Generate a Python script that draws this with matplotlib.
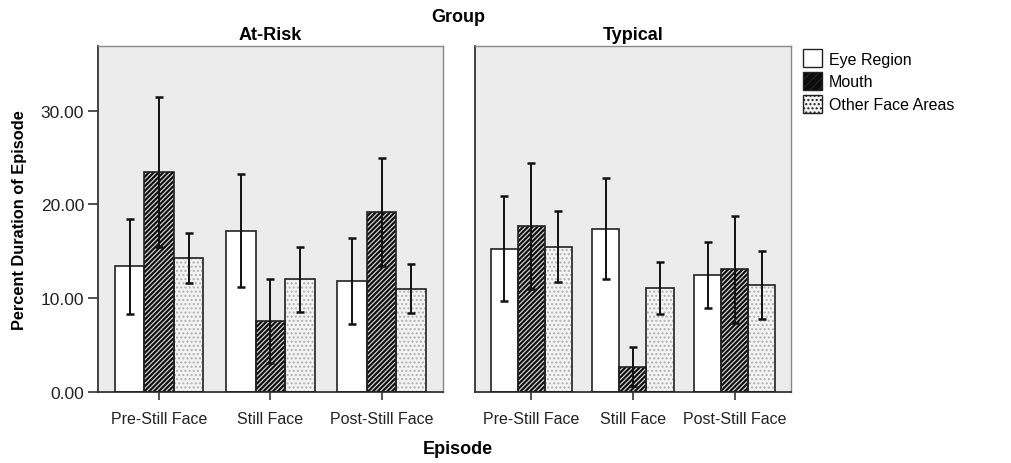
import matplotlib.pyplot as plt
import numpy as np

# Values (mean and half-width of the error bar)
episodes = ["Pre-Still Face", "Still Face", "Post-Still Face"]
groups = ["At-Risk", "Typical"]
regions = ["Eye Region", "Mouth", "Other Face Areas"]

at_risk_eye = [13.4, 17.2, 11.8]
at_risk_mouth = [23.5, 7.6, 19.2]
at_risk_other = [14.3, 12.0, 11.0]
at_risk_eye_err = [5.1, 6.0, 4.6]
at_risk_mouth_err = [8.0, 4.5, 5.8]
at_risk_other_err = [2.7, 3.5, 2.6]

typical_eye = [15.3, 17.4, 12.5]
typical_mouth = [17.7, 2.7, 13.1]
typical_other = [15.5, 11.1, 11.4]
typical_eye_err = [5.6, 5.4, 3.5]
typical_mouth_err = [6.7, 2.1, 5.7]
typical_other_err = [3.8, 2.8, 3.6]

means = {
    "At-Risk": [at_risk_eye, at_risk_mouth, at_risk_other],
    "Typical": [typical_eye, typical_mouth, typical_other],
}
errs = {
    "At-Risk": [at_risk_eye_err, at_risk_mouth_err, at_risk_other_err],
    "Typical": [typical_eye_err, typical_mouth_err, typical_other_err],
}

plt.rcParams["font.family"] = ["Liberation Sans", "DejaVu Sans"]

bg = "#ececec"
styles = [
    dict(facecolor="white", hatch=None, hcolor="white", hlw=1.0),
    dict(facecolor="#0c0c0c", hatch="///////", hcolor="#d0d0d0", hlw=0.9),
    dict(facecolor="#f4f4f4", hatch="....", hcolor="#b0b0b0", hlw=1.0),
]

fig = plt.figure(figsize=(10.11, 4.64), dpi=100)
ax_l = fig.add_axes([0.0969, 0.153, 0.3412, 0.7457])
ax_r = fig.add_axes([0.4698, 0.153, 0.3126, 0.7457])

x = np.arange(len(episodes))
w = 0.265
for ax, grp in zip([ax_l, ax_r], groups):
    ax.set_facecolor(bg)
    for k, st in enumerate(styles):
        pos = x + (k - 1) * w
        vals = means[grp][k]
        plt.rcParams["hatch.linewidth"] = st["hlw"]
        if st["hatch"]:
            ax.bar(pos, vals, w, color=st["facecolor"], edgecolor=st["hcolor"],
                   hatch=st["hatch"], linewidth=0, zorder=2)
        else:
            ax.bar(pos, vals, w, color=st["facecolor"], linewidth=0, zorder=2)
        ax.bar(pos, vals, w, fill=False, edgecolor="#222222", linewidth=1.2, zorder=3)
        ax.errorbar(pos, vals, yerr=errs[grp][k], fmt="none", ecolor="#111111",
                    elinewidth=1.4, capsize=3, capthick=1.8, zorder=4)
    ax.set_xlim(-0.55, 2.55)
    ax.set_ylim(0, 36.9)
    ax.set_xticks(x)
    ax.set_xticklabels(episodes, fontsize=11.5, color="#222222")
    ax.tick_params(axis="x", length=6, width=1.2, color="#333333", pad=8)
    ax.set_title(grp, fontsize=13, fontweight="bold", pad=5)
    for side in ["top", "right"]:
        ax.spines[side].set_color("#888888")
        ax.spines[side].set_linewidth(1.0)
    for side in ["left", "bottom"]:
        ax.spines[side].set_color("#333333")
        ax.spines[side].set_linewidth(1.3)

ax_l.set_yticks([0, 10, 20, 30])
ax_l.set_yticklabels(["0.00", "10.00", "20.00", "30.00"], fontsize=12.5, color="#222222")
ax_l.tick_params(axis="y", length=7, width=1.2, color="#333333", pad=3)
ax_l.set_ylabel("Percent Duration of Episode", fontsize=11.75, fontweight="bold", labelpad=10)
ax_r.set_yticks([])

fig.text(0.453, 0.962, "Group", ha="center", va="center", fontsize=13, fontweight="bold")
fig.text(0.453, 0.032, "Episode", ha="center", va="center", fontsize=13, fontweight="bold")

handles = []
plt.rcParams["hatch.linewidth"] = 1.0
for k, st in enumerate(styles):
    handles.append(plt.Rectangle((0, 0), 1, 1, facecolor=st["facecolor"],
                                 edgecolor="#222222", hatch=st["hatch"] and st["hatch"][:4],
                                 linewidth=1.0))
fig.legend(handles, regions, loc="upper left", bbox_to_anchor=(0.788, 0.905),
           frameon=False, fontsize=11.5, handlelength=1.2, handleheight=1.35,
           handletextpad=0.4, labelspacing=0.3, borderaxespad=0)

fig.savefig("out.png", dpi=100)
